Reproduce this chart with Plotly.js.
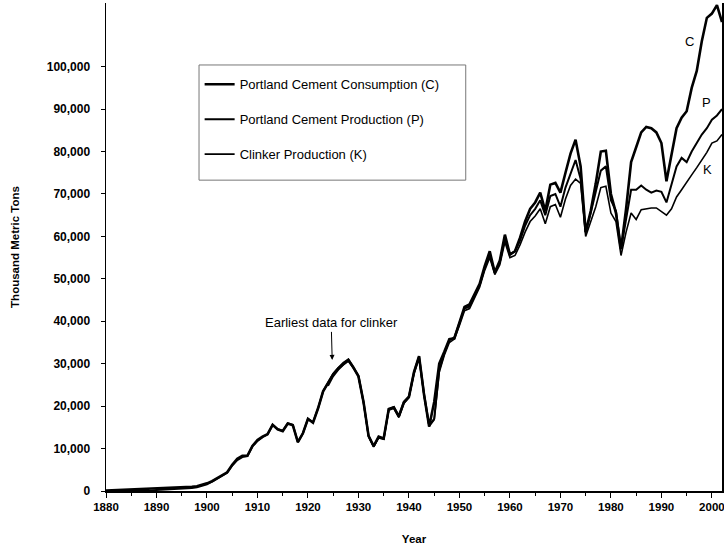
<!DOCTYPE html>
<html>
<head>
<meta charset="utf-8">
<script src="https://cdn.plot.ly/plotly-3.0.1.min.js"></script>
<style>html,body{margin:0;padding:0;background:#fff;}#chart{width:724px;height:550px;}</style>
</head>
<body>
<div id="chart"></div>
<script>
// ---- data (thousand metric tons) ----
const startYear = 1880;
const endYear = 2002;
const clinkerStartYear = 1924;

const consumptionC = [
  100,150,200,200,200,250,300,350,400,450,
  600,650,700,650,750,800,850,1000,1100,1400,
  1800,2300,3000,3700,4400,6200,7600,8300,8300,10600,
  12000,12800,13400,15600,14500,14100,15900,15500,11500,13600,
  17000,16100,19500,23500,25400,27500,28900,30000,30900,29100,
  27000,21000,13000,10600,12800,12400,19300,19700,17600,20900,
  22200,28000,31800,22600,15200,21000,30000,32800,35800,36000,
  40000,43400,44000,46500,48800,53000,56500,51500,54300,60400,
  55700,56500,59700,63500,66500,68000,70300,66000,72200,72600,
  70300,75000,79500,82800,76500,61000,66000,72500,80000,80200,
  70000,65500,57000,66500,77500,81000,84500,85800,85500,84500,
  82000,73000,79500,85500,88000,89500,95000,99000,106000,111500,
  112500,114500,110500
];

const productionP = [
  10,15,20,25,25,30,40,60,70,80,
  250,300,350,350,400,450,500,700,900,1200,
  1600,2200,2900,3600,4300,6000,7300,8000,8200,10500,
  11800,12700,13300,15600,14600,14200,16000,15600,11500,13600,
  17000,16200,19500,23500,25500,27600,29000,30200,31000,29200,
  27200,21000,13000,10500,12700,12300,19300,19800,17600,21000,
  22300,28000,31700,22800,15500,17000,28500,32500,35500,36200,
  39500,43000,43500,46200,48500,52500,55500,51500,54000,59500,
  55800,56500,59000,62500,65000,66500,68500,65000,69500,70000,
  67000,71500,75000,78000,73500,61000,65500,70500,75500,76500,
  68500,66000,57000,64000,71000,71000,72000,71000,70300,70800,
  70500,68000,72500,76500,78500,77500,80000,82000,84000,85500,
  87500,88500,90000
];

const clinkerK = [
  24800,27000,28500,29700,30600,29000,
  27000,20800,12800,10400,12500,12200,19000,19500,17300,20600,
  22000,27600,31200,22500,15200,16800,28000,32000,35000,35800,
  39000,42500,43000,45700,48000,52000,55000,51000,53300,58700,
  55000,55500,58000,61000,63500,64800,66500,63000,67000,67500,
  64500,68800,72000,73500,72500,60000,63500,67000,71500,71800,
  65500,63500,55500,61000,65500,64000,66300,66500,66700,66700,
  65800,65000,66500,69300,71000,72900,74500,76200,78000,79800,
  82000,82500,84000
];

const seriesNames = [
  "Portland Cement Consumption (C)",
  "Portland Cement Production (P)",
  "Clinker Production (K)"
];
const yTickValues = [0,10000,20000,30000,40000,50000,60000,70000,80000,90000,100000];
const xTickValues = [1880,1890,1900,1910,1920,1930,1940,1950,1960,1970,1980,1990,2000];

// ---- build ----
const years = [];
for (let y = startYear; y <= endYear; y++) years.push(y);
const kYears = [];
for (let y = clinkerStartYear; y <= endYear; y++) kYears.push(y);

const FONT = "Arial, 'Liberation Sans', sans-serif";

const traces = [
  {x: years, y: consumptionC, name: seriesNames[0], mode: "lines",
   line: {color: "#000", width: 2.6}, legendgroup: "c"},
  {x: years, y: productionP, name: seriesNames[1], mode: "lines",
   line: {color: "#000", width: 2.0}, legendgroup: "p"},
  {x: kYears, y: clinkerK, name: seriesNames[2], mode: "lines",
   line: {color: "#000", width: 1.6}, legendgroup: "k"}
];

const layout = {
  width: 724, height: 550,
  margin: {l: 106, r: 2, t: 3, b: 59},
  paper_bgcolor: "#fff", plot_bgcolor: "#fff",
  font: {family: FONT, color: "#000", size: 11},
  showlegend: true,
  legend: {
    x: 0.152, y: 0.864, xanchor: "left", yanchor: "top",
    bgcolor: "rgba(0,0,0,0)", borderwidth: 0,
    font: {family: FONT, size: 13, color: "#000"},
    tracegroupgap: 15, traceorder: "grouped", itemwidth: 30
  },
  xaxis: {
    range: [1880, 2002], tickvals: xTickValues,
    ticks: "outside", ticklen: 5, tickcolor: "#000", tickwidth: 1,
    showline: true, linecolor: "#000", linewidth: 1.5,
    showgrid: false, zeroline: false, ticklabeloverflow: "allow",
    tickfont: {family: FONT, size: 11.5, weight: "bold", color: "#000"},
    minor: {dtick: 5, ticks: "outside", ticklen: 3, tickcolor: "#000"},
    title: {text: "Year", font: {family: FONT, size: 11.5, weight: "bold", color: "#000"}, standoff: 22}
  },
  yaxis: {
    range: [0, 115000], tickvals: yTickValues, tickformat: ",d",
    ticks: "outside", ticklen: 4, tickcolor: "#000", tickwidth: 1,
    ticklabelstandoff: 8,
    showline: true, linecolor: "#000", linewidth: 1.5, mirror: true,
    showgrid: false, zeroline: false,
    tickfont: {family: FONT, size: 12, weight: "bold", color: "#000"},
    title: {text: "Thousand Metric Tons", font: {family: FONT, size: 11.5, weight: "bold", color: "#000"}, standoff: 24}
  },
  shapes: [
    {type: "rect", xref: "paper", yref: "paper",
     x0: 0.151, x1: 0.584, y0: 0.637, y1: 0.873,
     line: {color: "#777", width: 1}}
  ],
  annotations: [
    {x: 1924.8, y: 30900, xref: "x", yref: "y",
     text: "Earliest data for clinker", showarrow: true,
     arrowhead: 2, arrowsize: 1, arrowwidth: 1, arrowcolor: "#000",
     ax: -1, ay: -37, font: {family: FONT, size: 13, color: "#000"}},
    {x: 1995.6, y: 105900, xref: "x", yref: "y", text: "C", showarrow: false,
     font: {family: FONT, size: 13, color: "#000"}},
    {x: 1999.0, y: 91500, xref: "x", yref: "y", text: "P", showarrow: false,
     font: {family: FONT, size: 13, color: "#000"}},
    {x: 1999.2, y: 75700, xref: "x", yref: "y", text: "K", showarrow: false,
     font: {family: FONT, size: 13, color: "#000"}}
  ]
};

Plotly.newPlot("chart", traces, layout, {displayModeBar: false, staticPlot: true});
</script>
</body>
</html>
